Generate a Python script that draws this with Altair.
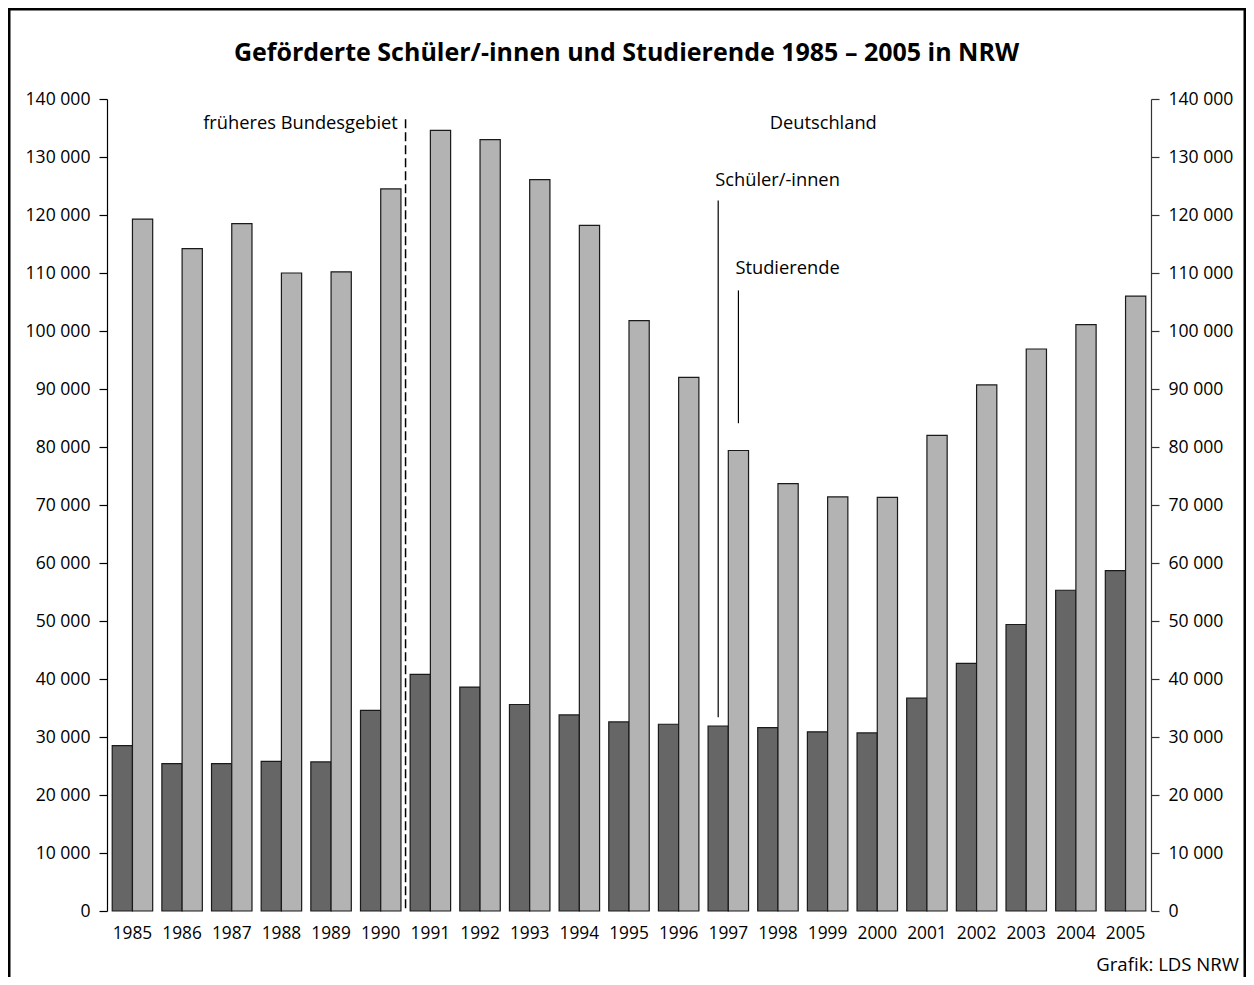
import altair as alt
import pandas as pd

# ---- data ----
years = ["1985", "1986", "1987", "1988", "1989", "1990", "1991", "1992", "1993", "1994",
         "1995", "1996", "1997", "1998", "1999", "2000", "2001", "2002", "2003", "2004", "2005"]
schueler = [28500, 25400, 25400, 25800, 25700, 34600, 40800, 38600, 35600, 33800, 32600,
            32200, 31900, 31600, 30900, 30700, 36700, 42700, 49400, 55300, 58700]
studierende = [119300, 114200, 118500, 110000, 110200, 124500, 134600, 133000, 126100, 118200, 101800,
               92000, 79400, 73700, 71400, 71300, 82000, 90700, 96900, 101100, 106000]
series = ["Schüler/-innen", "Studierende"]
colors = ["#666666", "#b3b3b3"]
y_ticks = [0, 10000, 20000, 30000, 40000, 50000, 60000, 70000,
           80000, 90000, 100000, 110000, 120000, 130000, 140000]

# annotations (data units)
title_text = "Geförderte Schüler/-innen und Studierende 1985 – 2005 in NRW"
source_text = "Grafik: LDS NRW"
divider_year = "1990"
divider_top = 136500
region_labels = ["früheres Bundesgebiet", "Deutschland"]
region_years = ["1990", "1999"]
region_y = 134800
leader_year = "1997"
leader_low = [33400, 84100]
leader_high = [122500, 107000]
leader_text_y = [125000, 109900]

FONT = "Open Sans"
ANN = 18.3

rows = []
for i, yr in enumerate(years):
    rows.append({"year": yr, "series": series[0], "value": schueler[i]})
    rows.append({"year": yr, "series": series[1], "value": studierende[i]})
df = pd.DataFrame(rows)

xscale = alt.Scale(domain=years, paddingInner=0.185, paddingOuter=0.105)
yscale = alt.Scale(domain=[0, 140000], nice=False, zero=True)
offscale = alt.Scale(domain=series, paddingInner=0, paddingOuter=0)

X = alt.X("year:O", title=None, scale=xscale,
          axis=alt.Axis(labelAngle=0, domain=False, ticks=False, tickSize=0, labelPadding=13,
                        labelFont=FONT, labelFontSize=17.3, labelColor="#000"))

label_expr = "replace(format(datum.value, ','), ',', ' ')"

left_axis = alt.Axis(orient="left", values=y_ticks, labelExpr=label_expr, tickSize=8,
                     labelPadding=9, domainColor="#000", tickColor="#000", domainWidth=1.2,
                     tickWidth=1.2, labelFont=FONT, labelFontSize=17.6, labelColor="#000",
                     grid=False, title=None)
right_axis = alt.Axis(orient="right", values=y_ticks, labelExpr=label_expr, tickSize=8,
                      labelPadding=9, domainColor="#333", tickColor="#333", domainWidth=1.2,
                      tickWidth=1.2, labelFont=FONT, labelFontSize=17.6, labelColor="#000",
                      grid=False, title=None)

bars = alt.Chart(df).mark_bar(stroke="#1a1a1a", strokeWidth=1.2).encode(
    x=X,
    xOffset=alt.XOffset("series:N", scale=offscale),
    y=alt.Y("value:Q", scale=yscale, axis=left_axis),
    color=alt.Color("series:N", scale=alt.Scale(domain=series, range=colors), legend=None),
)

div_df = pd.DataFrame([{"year": divider_year, "top": divider_top, "bottom": 0}])
divider = alt.Chart(div_df).mark_rule(color="#000", strokeWidth=1.5, strokeDash=[9, 4],
                                       xOffset=4.6).encode(
    x=alt.X("year:O", title=None, scale=xscale, bandPosition=1),
    y=alt.Y("top:Q", scale=yscale, axis=right_axis),
    y2="bottom:Q",
)

lead_df = pd.DataFrame([{"year": leader_year, "series": series[i], "lo": leader_low[i],
                         "hi": leader_high[i], "ty": leader_text_y[i]} for i in range(2)])
leaders = alt.Chart(lead_df).mark_rule(color="#000", strokeWidth=1.2).encode(
    x=alt.X("year:O", title=None, scale=xscale),
    xOffset=alt.XOffset("series:N", scale=offscale),
    y=alt.Y("lo:Q", scale=yscale, axis=None),
    y2="hi:Q",
)
leader_text = alt.Chart(lead_df).mark_text(align="left", baseline="alphabetic", dx=-3,
                                           font=FONT, fontSize=ANN, color="#000").encode(
    x=alt.X("year:O", title=None, scale=xscale),
    xOffset=alt.XOffset("series:N", scale=offscale),
    y=alt.Y("ty:Q", scale=yscale, axis=None),
    text="series:N",
)

reg1 = alt.Chart(pd.DataFrame([{"year": region_years[0], "y": region_y, "t": region_labels[0]}])).mark_text(
    align="right", baseline="alphabetic", dx=-3.1, font=FONT, fontSize=ANN, color="#000").encode(
    x=alt.X("year:O", title=None, scale=xscale, bandPosition=1),
    y=alt.Y("y:Q", scale=yscale, axis=None),
    text="t:N",
)
reg2 = alt.Chart(pd.DataFrame([{"year": region_years[1], "y": region_y, "t": region_labels[1]}])).mark_text(
    align="center", baseline="alphabetic", dx=-4.4, font=FONT, fontSize=ANN, color="#000").encode(
    x=alt.X("year:O", title=None, scale=xscale, bandPosition=0.5),
    y=alt.Y("y:Q", scale=yscale, axis=None),
    text="t:N",
)

one = pd.DataFrame([{"t": source_text, "title": title_text}])
source = alt.Chart(one).mark_text(align="right", baseline="alphabetic", font=FONT,
                                  fontSize=18.6, color="#000").encode(
    x=alt.value(1132), y=alt.value(872), text="t:N")

title = alt.Chart(one).mark_text(align="center", baseline="alphabetic", font=FONT,
                                 fontSize=25, fontWeight="bold", color="#000").encode(
    x=alt.value(519.5), y=alt.value(-38), text="title:N")

border = alt.Chart(one).mark_rect(filled=False, stroke="#000", strokeWidth=2.5).encode(
    x=alt.value(-97.75), x2=alt.value(1137.75), y=alt.value(-89.75), y2=alt.value(910))

chart = alt.layer(bars, divider, leaders, leader_text, reg1, reg2, source, title, border).resolve_scale(
    y="independent"
).properties(
    width=1044, height=812,
    padding={"left": 99, "top": 91, "right": 95, "bottom": 66},
    autosize=alt.AutoSizeParams(type="none"),
).configure_view(stroke=None)

chart.save("out.html", embed_options={"renderer": "svg", "actions": False})
